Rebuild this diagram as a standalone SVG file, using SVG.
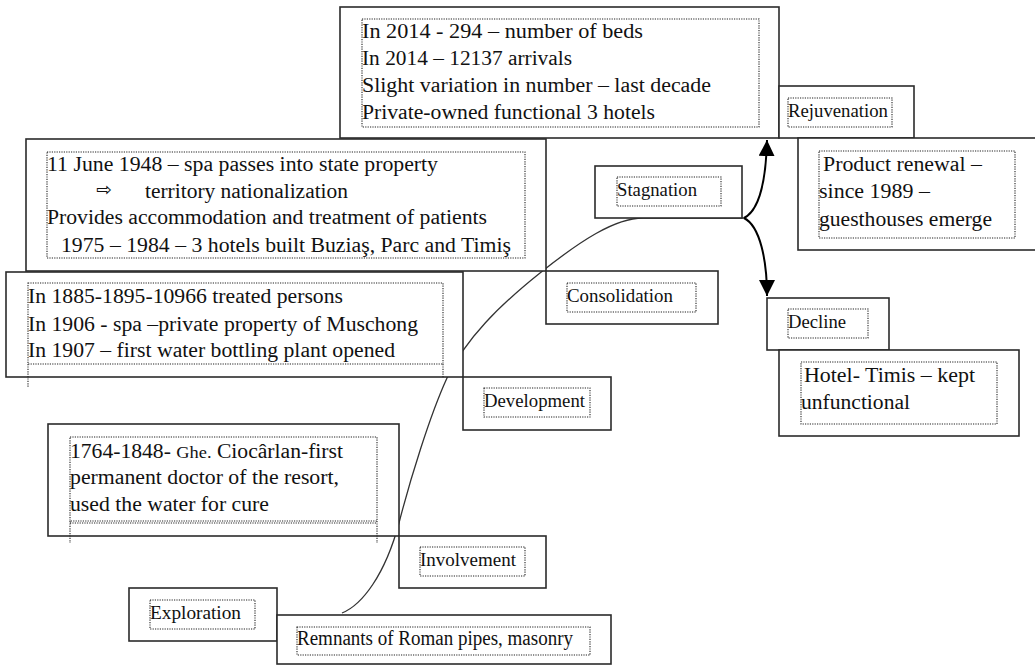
<svg xmlns="http://www.w3.org/2000/svg" width="1035" height="666" viewBox="0 0 1035 666">
<defs>
<style>
.box{fill:#fff;stroke:#2b2b2b;stroke-width:1.6}
.dot{fill:none;stroke:#222;stroke-width:1.1;stroke-dasharray:1.2 1.2}
.t{font-family:"Liberation Serif","DejaVu Serif",serif;font-size:20px;fill:#111}
.l{font-family:"Liberation Serif","DejaVu Serif",serif;font-size:19px;fill:#111}
.curve{fill:none;stroke:#333;stroke-width:1.3}
.arr{fill:none;stroke:#000;stroke-width:2}
</style>
<marker id="ah" markerUnits="userSpaceOnUse" markerWidth="17" markerHeight="16" refX="16" refY="8" orient="auto">
<path d="M0,0 L16,8 L0,16 z" fill="#000"/>
</marker>
</defs>
<rect width="1035" height="666" fill="#fff"/>
<g id="connectors">
<path class="curve" d="M342,613 C362,605 385,575 399,523 C410,480 430,415 447,378 C466,338 500,305 540,273 C580,241 615,218 643,218 L744,218"/>
<path class="arr" d="M744,218 C760,210 766,180 767,140" marker-end="url(#ah)"/>
<path class="arr" d="M744,218 C760,226 767,260 767,296" marker-end="url(#ah)"/>
</g>
<g id="rejuvenation-facts">
<rect class="box" x="340" y="7" width="439" height="131"/>
<rect class="dot" x="362" y="19" width="397" height="108"/>
<text class="t" x="362" y="38" textLength="281" lengthAdjust="spacingAndGlyphs">In 2014 - 294 – number of  beds</text>
<text class="t" x="362" y="65" textLength="210" lengthAdjust="spacingAndGlyphs">In 2014 – 12137 arrivals</text>
<text class="t" x="362" y="92" textLength="349" lengthAdjust="spacingAndGlyphs">Slight variation in number – last  decade</text>
<text class="t" x="362" y="119" textLength="293" lengthAdjust="spacingAndGlyphs">Private-owned functional 3 hotels</text>
</g>
<g id="rejuvenation">
<rect class="box" x="779" y="86" width="135" height="52"/>
<rect class="dot" x="788" y="98" width="104" height="29"/>
<text class="l" x="788" y="117" textLength="100" lengthAdjust="spacingAndGlyphs">Rejuvenation</text>
</g>
<g id="rejuvenation-detail">
<rect class="box" x="798" y="138" width="240" height="112"/>
<rect class="dot" x="819" y="151" width="196" height="87"/>
<text class="t" x="823" y="171" textLength="159" lengthAdjust="spacingAndGlyphs">Product renewal –</text>
<text class="t" x="819" y="198" textLength="111" lengthAdjust="spacingAndGlyphs">since 1989 –</text>
<text class="t" x="819" y="226" textLength="173" lengthAdjust="spacingAndGlyphs">guesthouses emerge</text>
</g>
<g id="consolidation-facts">
<rect class="box" x="26" y="139" width="520" height="132"/>
<rect class="dot" x="47" y="152" width="478" height="106"/>
<text class="t" x="47" y="171" textLength="391" lengthAdjust="spacingAndGlyphs">11 June 1948 – spa passes into state property</text>
<text x="96" y="196" style="font-family:'DejaVu Sans',sans-serif;font-size:19px;fill:#111">⇨</text>
<text class="t" x="145" y="198" textLength="203" lengthAdjust="spacingAndGlyphs">territory nationalization</text>
<text class="t" x="47" y="224" textLength="440" lengthAdjust="spacingAndGlyphs">Provides accommodation and treatment of patients</text>
<text class="t" x="61" y="252" textLength="450" lengthAdjust="spacingAndGlyphs">1975 – 1984 – 3 hotels built Buziaş, Parc and Timiş</text>
</g>
<g id="stagnation">
<rect class="box" x="595" y="166" width="147" height="52"/>
<rect class="dot" x="617" y="177" width="104" height="29"/>
<text class="l" x="617" y="196" textLength="80" lengthAdjust="spacingAndGlyphs">Stagnation</text>
</g>
<g id="development-facts">
<rect class="box" x="6" y="272" width="457" height="105"/>
<rect class="dot" x="28" y="283" width="415" height="81"/>
<path class="dot" d="M28,364 V388 M443,364 V378"/>
<text class="t" x="28" y="303" textLength="315" lengthAdjust="spacingAndGlyphs">In 1885-1895-10966 treated persons</text>
<text class="t" x="28" y="331" textLength="390" lengthAdjust="spacingAndGlyphs">In 1906 - spa –private property  of Muschong</text>
<text class="t" x="28" y="357" textLength="367" lengthAdjust="spacingAndGlyphs">In 1907 – first water bottling plant opened</text>
</g>
<g id="consolidation">
<rect class="box" x="546" y="271" width="172" height="53"/>
<rect class="dot" x="567" y="283" width="129" height="29"/>
<text class="l" x="567" y="302" textLength="106" lengthAdjust="spacingAndGlyphs">Consolidation</text>
</g>
<g id="decline">
<rect class="box" x="767" y="298" width="122" height="52"/>
<rect class="dot" x="788" y="309" width="80" height="29"/>
<text class="l" x="788" y="328" textLength="58" lengthAdjust="spacingAndGlyphs">Decline</text>
</g>
<g id="decline-detail">
<rect class="box" x="779" y="350" width="240" height="86"/>
<rect class="dot" x="801" y="362" width="196" height="62"/>
<text class="t" x="804" y="382" textLength="171" lengthAdjust="spacingAndGlyphs">Hotel- Timis  – kept</text>
<text class="t" x="801" y="409" textLength="109" lengthAdjust="spacingAndGlyphs">unfunctional</text>
</g>
<g id="development">
<rect class="box" x="463" y="377" width="148" height="53"/>
<rect class="dot" x="484" y="388" width="106" height="29"/>
<text class="l" x="484" y="407" textLength="101" lengthAdjust="spacingAndGlyphs">Development</text>
</g>
<g id="involvement-facts">
<rect class="box" x="48" y="424" width="351" height="112"/>
<rect class="dot" x="70" y="437" width="307" height="84"/>
<path class="dot" d="M70,521 V543 M377,521 V543 M70,523 H377"/>
<text class="t" x="70" y="458" textLength="273" lengthAdjust="spacingAndGlyphs">1764-1848- <tspan style="font-size:17px">Ghe.</tspan> Ciocârlan-first</text>
<text class="t" x="70" y="484" textLength="269" lengthAdjust="spacingAndGlyphs">permanent  doctor of the resort,</text>
<text class="t" x="70" y="511" textLength="199" lengthAdjust="spacingAndGlyphs">used the water for cure</text>
</g>
<g id="involvement">
<rect class="box" x="399" y="536" width="147" height="52"/>
<rect class="dot" x="420" y="547" width="105" height="29"/>
<text class="l" x="420" y="566" textLength="96" lengthAdjust="spacingAndGlyphs">Involvement</text>
</g>
<g id="exploration">
<rect class="box" x="129" y="588" width="148" height="53"/>
<rect class="dot" x="150" y="600" width="105" height="29"/>
<text class="l" x="150" y="619" textLength="91" lengthAdjust="spacingAndGlyphs">Exploration</text>
</g>
<g id="exploration-detail">
<rect class="box" x="277" y="615" width="334" height="49"/>
<rect class="dot" x="297" y="627" width="293" height="28"/>
<text class="t" x="297" y="645" textLength="276" lengthAdjust="spacingAndGlyphs">Remnants of Roman pipes, masonry</text>
</g>
</svg>
